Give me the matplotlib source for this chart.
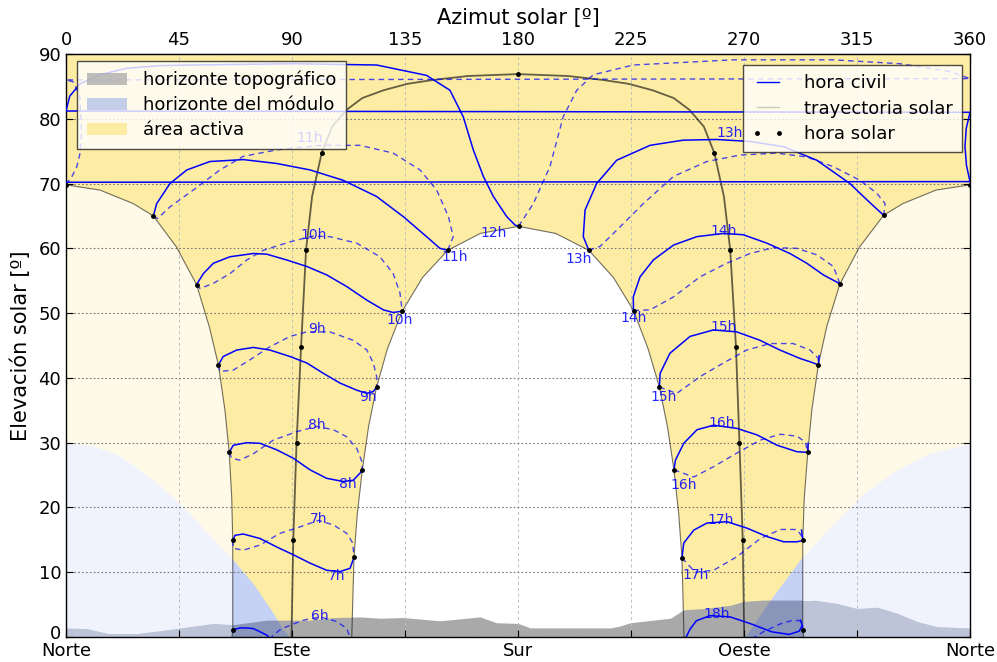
import matplotlib
matplotlib.use('Agg')
import matplotlib.pyplot as plt
import matplotlib.transforms as mtransforms
from matplotlib.patches import Polygon, Patch
from matplotlib.lines import Line2D

YELLOW = '#fdeca4'
TOPO_GRAY = '#a9a9a9'
MODULE_BLUE = 'royalblue'

# solstice / equinox paths (azimuth, elevation)
summer_left_az = [0.0, 13.5, 26.8, 34.8, 44.0, 52.0, 57.0, 60.7, 63.3, 65.0, 66.0, 66.4, 66.4, 66.1]
summer_left_el = [69.8, 69.0, 66.9, 65.0, 60.2, 54.4, 48.0, 42.0, 35.0, 28.5, 21.5, 14.9, 1.1, 0.0]
summer_right_az = [293.8, 293.4, 293.4, 294.0, 295.4, 297.0, 299.6, 303.0, 308.2, 316.0, 325.6, 333.2, 346.5, 360.0]
summer_right_el = [0.0, 1.1, 14.9, 21.5, 28.5, 35.0, 42.0, 48.0, 54.5, 60.2, 65.1, 66.9, 69.0, 69.8]

winter_az = [113.8, 114.7, 116.0, 118.0, 120.5, 123.7, 128.0, 133.9, 142.0, 152.0, 165.0, 180.2,
             195.0, 208.2, 218.0, 226.0, 231.8, 236.3, 239.5, 242.1, 244.0, 245.3, 246.1]
winter_el = [0.0, 12.3, 19.0, 25.8, 32.5, 38.6, 44.5, 50.3, 55.5, 59.7, 62.3, 63.4,
             62.3, 59.7, 55.5, 50.4, 44.5, 38.6, 32.5, 25.8, 19.0, 12.2, 0.0]

equinox_az = [89.8, 90.5, 91.8, 93.6, 95.6, 98.0, 101.8, 106.0, 111.8, 118.0, 126.4, 136.0, 146.3, 160.0,
              180.0, 200.0, 213.7, 224.0, 233.6, 242.0, 248.2, 254.0, 258.2, 262.0, 264.5, 266.8, 268.2,
              269.5, 270.1]
equinox_el = [0.0, 14.9, 29.9, 44.7, 59.8, 68.0, 74.7, 78.8, 81.4, 83.2, 84.4, 85.4, 86.0, 86.6,
              86.9, 86.6, 86.0, 85.4, 84.4, 83.2, 81.4, 78.8, 74.7, 68.0, 59.8, 44.8, 29.9,
              14.9, 0.0]

# solar hour marks on the three paths
solar_dot_az = [66.4, 66.4, 65.0, 60.7, 52.0, 34.8, 0.0, 360.0, 325.6, 308.2, 299.6, 295.4, 293.4, 293.4,
                90.5, 91.8, 93.6, 95.6, 101.8, 180.0, 258.2, 264.5, 266.8, 268.2, 269.5,
                114.7, 118.0, 123.7, 133.9, 152.0, 180.2, 208.2, 226.0, 236.3, 242.1, 245.3]
solar_dot_el = [1.1, 14.9, 28.5, 42.0, 54.4, 65.0, 69.8, 69.8, 65.1, 54.5, 42.0, 28.5, 14.9, 1.1,
                14.9, 29.9, 44.7, 59.8, 74.7, 86.9, 74.7, 59.8, 44.8, 29.9, 14.9,
                12.3, 25.8, 38.6, 50.3, 59.7, 63.4, 59.7, 50.4, 38.6, 25.8, 12.2]

# topographic horizon
topo_az = [0, 8.2, 16.2, 29.5, 40.1, 58.7, 66.6, 79.9, 89.2, 97.2, 106.5, 117.1, 125.0, 134.3, 148.9,
           164.9, 171.5, 180.1, 184.9, 191.4, 216.8, 220.6, 224.7, 240.7, 246.0, 254.0, 264.6, 269.9,
           277.8, 297.8, 307.0, 315.0, 323.0, 330.9, 338.9, 346.9, 360]
topo_el = [1.4, 1.3, 0.6, 0.6, 1.1, 2.1, 1.9, 2.6, 2.6, 2.6, 3.0, 3.1, 2.9, 3.0, 2.5,
           3.1, 2.2, 2.1, 1.4, 1.4, 1.4, 1.7, 2.2, 2.9, 4.2, 4.4, 4.9, 5.5,
           5.7, 5.7, 5.2, 4.4, 4.6, 3.7, 2.4, 1.6, 1.4]

# module horizon
mod_left_az = [0, 10, 20, 29.5, 38, 48, 57, 66.6, 75, 82, 86.5, 89.2]
mod_left_el = [30, 29.6, 28.3, 25.8, 23.2, 19.6, 15.8, 11.9, 8.0, 4.0, 1.1, 0]
mod_right_az = [270.4, 280.4, 292.3, 304.4, 317.7, 330.9, 344.2, 360]
mod_right_el = [0, 5.7, 11.9, 17.0, 22.2, 25.8, 28.4, 29.9]

# civil hour curves (az, el): solid = one half of the year, dashed = the other
civil_06_solid = [(66.4, 1.1), (69.3, 1.4), (72.0, 1.4), (74.6, 1.3), (77.3, 0.8), (79.9, 0.3), (81.8, -0.4)]
civil_06_dashed = [(81.0, -0.4), (82.6, 0.3), (85.2, 1.1), (87.9, 1.6), (94.5, 2.6), (101.2, 3.1),
                   (107.8, 2.4), (111.8, 1.3), (113.4, -0.3)]
civil_07_solid = [(66.4, 14.9), (67.3, 15.7), (70.6, 15.9), (77.3, 15.2), (83.9, 13.9), (90.5, 12.7),
                  (97.2, 11.4), (103.8, 10.3), (109.1, 10.1), (113.1, 10.6), (114.7, 12.3)]
civil_07_dashed = [(66.4, 14.9), (66.6, 13.7), (70.6, 13.4), (77.3, 14.2), (85.2, 16.0), (93.2, 17.0),
                   (100.5, 18.0), (106.5, 17.3), (111.8, 16.0), (114.2, 14.5), (114.7, 12.3)]
civil_08_solid = [(65.0, 28.5), (66.6, 29.6), (72.0, 30.0), (77.3, 29.9), (83.9, 28.9), (90.5, 27.6),
                  (97.2, 25.8), (103.8, 24.5), (110.4, 24.0), (114.4, 24.2), (117.1, 25.3), (118.0, 25.8)]
civil_08_dashed = [(65.0, 28.5), (66.0, 27.6), (69.3, 27.3), (74.6, 28.3), (82.6, 30.4), (91.9, 31.7),
                   (99.8, 32.5), (106.5, 32.0), (111.8, 30.9), (115.8, 29.1), (117.8, 27.1), (118.0, 25.8)]
civil_09_solid = [(60.7, 42.0), (62.6, 43.3), (68.0, 44.3), (74.6, 44.7), (81.2, 44.3), (89.2, 43.3),
                  (95.9, 42.3), (102.5, 40.7), (109.1, 39.2), (115.8, 38.1), (119.8, 37.6), (122.4, 37.9),
                  (123.7, 38.6)]
civil_09_dashed = [(60.7, 42.0), (61.3, 41.0), (66.6, 41.2), (73.3, 42.8), (81.2, 44.8), (89.2, 46.4),
                   (95.9, 47.1), (105.1, 47.1), (114.4, 45.8), (119.8, 44.3), (122.4, 42.3), (123.7, 40.2),
                   (123.7, 38.6)]
civil_10_solid = [(52.0, 54.4), (54.7, 56.1), (58.7, 57.7), (65.3, 58.7), (74.6, 59.2), (79.9, 59.1),
                  (87.9, 58.2), (95.9, 57.2), (103.8, 55.9), (111.8, 54.1), (119.8, 52.0), (126.4, 50.5),
                  (130.3, 50.1), (133.9, 50.3)]
civil_10_dashed = [(52.0, 54.4), (53.4, 53.8), (58.7, 54.6), (65.3, 56.1), (72.0, 58.2), (78.6, 59.7),
                   (89.2, 61.0), (98.5, 61.9), (105.1, 61.8), (115.8, 60.8), (125.0, 58.7), (130.3, 56.1),
                   (133.0, 53.1), (133.9, 50.3)]
civil_11_solid = [(34.8, 65.0), (36.1, 66.9), (41.4, 70.0), (48.1, 72.1), (57.3, 73.4), (70.6, 73.7),
                  (83.9, 73.1), (97.2, 72.1), (110.4, 70.5), (123.7, 68.0), (134.3, 64.9), (143.6, 61.8),
                  (148.9, 60.0), (152.0, 59.7)]
civil_11_dashed = [(34.8, 65.0), (36.5, 64.6), (41.4, 66.4), (50.7, 69.0), (61.3, 72.1), (70.6, 74.2),
                   (83.9, 75.2), (101.2, 75.9), (117.1, 75.9), (130.3, 74.7), (141.0, 72.1), (147.6, 69.0),
                   (152.3, 64.9), (154.2, 61.8), (152.0, 59.7)]
civil_12_solid = [(180.2, 63.4), (178.8, 63.6), (175.5, 64.9), (170.2, 68.0), (166.2, 71.1), (162.2, 75.2),
                  (158.2, 80.3), (152.9, 84.4), (143.6, 86.7), (123.7, 88.3), (90.5, 88.5), (50.7, 88.3),
                  (37.4, 88.2), (24.2, 87.8), (13.5, 86.8), (5.6, 85.4), (1.5, 83.5), (0.0, 81.2),
                  (360.0, 81.0), (358.5, 78.5), (358.0, 75.7), (358.6, 72.8), (360.0, 70.3), (0.0, 70.2)]
civil_12_dashed = [(180.2, 63.4), (186.1, 66.9), (192.7, 72.6), (198.0, 80.3), (203.4, 84.4), (210.0, 86.8),
                   (225.9, 88.3), (265.7, 89.1), (305.6, 89.1), (332.1, 88.5), (352.0, 87.3), (360.0, 86.2),
                   (0.0, 86.0), (2.9, 85.7), (5.5, 83.5), (6.2, 77.7), (5.5, 74.5), (4.3, 72.6),
                   (2.0, 70.8), (0.0, 70.0)]
civil_13_solid = [(208.2, 59.7), (206.0, 61.8), (206.7, 65.9), (211.3, 70.0), (219.3, 73.6), (232.6, 75.9),
                  (245.8, 76.7), (259.1, 76.8), (272.4, 76.5), (285.7, 75.7), (299.0, 73.6), (312.2, 70.0),
                  (318.9, 67.5), (325.6, 65.1)]
civil_13_dashed = [(208.2, 59.7), (212.7, 60.3), (219.3, 62.8), (229.9, 66.9), (241.9, 71.1), (255.2, 73.4),
                   (268.4, 74.4), (283.0, 74.7), (295.0, 74.1), (305.6, 72.6), (316.2, 70.5), (322.9, 68.5),
                   (326.2, 66.9), (325.6, 65.1)]
civil_14_solid = [(226.0, 50.4), (225.9, 52.5), (228.6, 55.6), (233.9, 58.2), (241.9, 60.5), (251.2, 61.8),
                  (261.8, 62.3), (269.7, 62.1), (279.1, 60.8), (288.3, 59.2), (295.0, 57.7), (301.6, 55.9),
                  (306.9, 54.8), (308.2, 54.5)]
civil_14_dashed = [(226.0, 50.4), (232.6, 50.5), (241.9, 52.5), (252.5, 55.6), (263.1, 57.7), (272.4, 59.2),
                   (281.7, 60.1), (291.0, 60.0), (299.0, 59.0), (305.6, 57.2), (308.2, 54.5)]
civil_15_solid = [(236.3, 38.6), (236.6, 40.7), (240.5, 43.8), (248.5, 46.4), (257.8, 47.4), (267.1, 47.1),
                  (276.4, 45.8), (284.3, 44.3), (292.3, 43.0), (297.0, 42.4), (299.6, 42.0), (299.9, 43.4)]
civil_15_dashed = [(236.3, 38.6), (243.2, 37.6), (252.5, 40.2), (261.8, 42.3), (271.1, 44.3), (280.4, 45.3),
                   (289.6, 45.3), (296.3, 44.3), (299.6, 43.0), (299.6, 42.0)]
civil_16_solid = [(242.1, 25.8), (242.7, 27.3), (246.0, 29.9), (251.3, 32.0), (257.9, 32.7), (267.2, 32.2),
                  (275.2, 31.2), (283.2, 29.6), (291.1, 28.6), (295.4, 28.5), (295.5, 29.9)]
civil_16_dashed = [(242.1, 25.8), (250.0, 24.7), (257.9, 26.3), (267.2, 28.4), (276.5, 30.4), (284.5, 31.3),
                   (291.1, 31.0), (294.4, 30.1), (295.4, 28.5)]
civil_17_solid = [(245.3, 12.2), (246.0, 14.5), (250.0, 16.5), (255.3, 17.6), (263.2, 17.8), (271.2, 16.8),
                  (279.2, 15.5), (285.8, 14.7), (291.1, 14.7), (293.4, 14.9), (292.9, 16.5)]
civil_17_dashed = [(245.3, 12.2), (250.6, 10.0), (257.9, 10.3), (267.2, 12.4), (276.5, 15.2), (284.5, 16.6),
                   (291.1, 16.6), (293.1, 15.5), (293.4, 14.9)]
civil_18_solid = [(246.6, -0.3), (248.5, 1.2), (251.0, 2.5), (256.5, 3.3), (264.5, 3.1), (273.0, 2.0),
                  (281.0, 0.8), (288.0, 0.4), (292.0, 0.9), (293.2, 1.8), (292.5, 2.6)]
civil_18_dashed = [(273.0, -0.3), (277.7, 0.8), (284.3, 2.0), (289.6, 2.6), (292.3, 2.5), (293.4, 1.9),
                   (293.4, 1.1)]

civil_solid = [civil_06_solid, civil_07_solid, civil_08_solid, civil_09_solid, civil_10_solid,
               civil_11_solid, civil_12_solid, civil_13_solid, civil_14_solid, civil_15_solid,
               civil_16_solid, civil_17_solid, civil_18_solid]
civil_dashed = [civil_06_dashed, civil_07_dashed, civil_08_dashed, civil_09_dashed, civil_10_dashed,
                civil_11_dashed, civil_12_dashed, civil_13_dashed, civil_14_dashed, civil_15_dashed,
                civil_16_dashed, civil_17_dashed, civil_18_dashed]

# hour labels
hour_label_txt = ['6h', '7h', '7h', '8h', '8h', '9h', '9h', '10h', '10h', '11h', '11h', '12h',
                  '13h', '13h', '14h', '14h', '15h', '15h', '16h', '16h', '17h', '17h', '18h']
hour_label_az = [101.2, 100.5, 107.8, 99.8, 112.4, 99.8, 120.4, 98.5, 133.0, 97.2, 154.9, 170.2,
                 264.4, 204.0, 261.8, 225.9, 261.8, 237.9, 261.2, 246.0, 260.6, 250.6, 259.3]
hour_label_el = [3.3, 18.2, 9.4, 32.8, 23.6, 47.6, 37.1, 62.1, 49.0, 77.0, 58.7, 62.3,
                 77.8, 58.4, 62.6, 49.2, 47.9, 37.1, 33.0, 23.5, 18.1, 9.6, 3.5]

bottom_ticks = [0, 45, 90, 135, 180, 225, 270, 315, 360]
bottom_labels = ['Norte', '', 'Este', '', 'Sur', '', 'Oeste', '', 'Norte']


fig = plt.figure(figsize=(9.97, 6.62), dpi=100)
ax = fig.add_axes([66 / 997, 25 / 662, 904 / 997, 583 / 662])
ax.set_xlim(0, 360)
ax.set_ylim(0, 90)

# active area: everything above the winter path
yellow_pts = [(0, 0)] + list(zip(winter_az, winter_el)) + [(360, 0), (360, 90), (0, 90)]
ax.add_patch(Polygon(yellow_pts, closed=True, facecolor=YELLOW, edgecolor='none', zorder=0.2))

# behind the module: no active area
for maz, mel in ((mod_left_az, mod_left_el), (mod_right_az, mod_right_el)):
    ax.fill_between(maz, 0, mel, color='white', lw=0, zorder=0.3)

ax.fill_between(topo_az, 0, topo_el, color=TOPO_GRAY, lw=0, zorder=0.4)

for maz, mel in ((mod_left_az, mod_left_el), (mod_right_az, mod_right_el)):
    ax.fill_between(maz, 0, mel, color=MODULE_BLUE, alpha=0.3, lw=0, zorder=0.5)

# wash out the zones beyond the summer path
for saz, sel, corner in ((summer_left_az, summer_left_el, 0), (summer_right_az, summer_right_el, 360)):
    clip = Polygon([(corner, 0)] + list(zip(saz, sel)), closed=True, transform=ax.transData)
    hi = ax.fill_between(topo_az, topo_el, 90, color='white', alpha=0.75, lw=0, zorder=0.6)
    hi.set_clip_path(clip)
    clip2 = Polygon([(corner, 0)] + list(zip(saz, sel)), closed=True, transform=ax.transData)
    lo = ax.fill_between(topo_az, 0, topo_el, color='white', alpha=0.45, lw=0, zorder=0.6)
    lo.set_clip_path(clip2)

# sun paths
ax.plot(summer_left_az, summer_left_el, color='k', lw=0.8, alpha=0.55, zorder=2)
ax.plot(summer_right_az, summer_right_el, color='k', lw=0.8, alpha=0.55, zorder=2)
ax.plot(winter_az, winter_el, color='k', lw=0.8, alpha=0.55, zorder=2)
ax.plot(equinox_az, equinox_el, color='k', lw=1.3, alpha=0.6, zorder=2)

# civil time curves
for curve in civil_solid:
    az, el = zip(*curve)
    ax.plot(az, el, color='b', lw=1.1, zorder=3)
for curve in civil_dashed:
    az, el = zip(*curve)
    ax.plot(az, el, color='b', lw=1.0, ls=(0, (4, 3)), alpha=0.7, zorder=3)

ax.plot(solar_dot_az, solar_dot_el, 'k.', ms=5, zorder=4)

for a, e, t in zip(hour_label_az, hour_label_el, hour_label_txt):
    ax.text(a, e, t, color='b', fontsize=10, ha='center', va='center', alpha=0.85, zorder=3.5)

# grid and axes
ax.set_xticks(bottom_ticks)
ax.set_xticklabels(bottom_labels)
ax.set_yticks(range(0, 91, 10))
ax.xaxis.grid(True, ls=(0, (3, 3)), color='#bdbdbd', lw=0.7)
ax.yaxis.grid(True, ls=(0, (1.5, 2)), color='#777777', lw=0.8)
ax.tick_params(direction='in', length=5, width=0.8, right=True, labelsize=13)
ax.set_ylabel('Elevación solar [º]', fontsize=15, labelpad=5)
for sp in ax.spines.values():
    sp.set_linewidth(1.0)

# lift the "0" a little so it clears the bottom "Norte"
zero_lbl = ax.yaxis.get_major_ticks()[0].label1
zero_lbl.set_transform(zero_lbl.get_transform() +
                       mtransforms.ScaledTranslation(0, 5 / 100, fig.dpi_scale_trans))

secax = ax.secondary_xaxis('top')
secax.set_xticks(range(0, 361, 45))
secax.tick_params(direction='in', length=5, width=0.8, labelsize=13)
secax.set_xlabel('Azimut solar [º]', fontsize=15, labelpad=5)

# legends
h1 = [Patch(facecolor=TOPO_GRAY, alpha=0.75, edgecolor='none'),
      Patch(facecolor=MODULE_BLUE, alpha=0.3, edgecolor='none'),
      Patch(facecolor=YELLOW, edgecolor='none')]
leg1 = ax.legend(h1, ['horizonte topográfico', 'horizonte del módulo', 'área activa'],
                 loc='upper left', bbox_to_anchor=(0.012, 0.988), borderaxespad=0, fontsize=13,
                 fancybox=False, framealpha=0.8, edgecolor='#222222', labelspacing=0.38,
                 handlelength=2.2, handletextpad=0.9, borderpad=0.55)
leg1.get_frame().set_linewidth(1.0)
ax.add_artist(leg1)

h2 = [Line2D([], [], color='b', lw=1.0),
      Line2D([], [], color='k', lw=1.0, alpha=0.2),
      Line2D([], [], color='k', marker='.', ls='none', ms=5)]
leg2 = ax.legend(h2, ['hora civil', 'trayectoria solar', 'hora solar'],
                 loc='upper right', bbox_to_anchor=(0.991, 0.981), borderaxespad=0, fontsize=13,
                 fancybox=False, framealpha=0.8, edgecolor='#222222', labelspacing=0.42,
                 handlelength=1.8, handletextpad=1.1, borderpad=0.5, numpoints=2)
leg2.get_frame().set_linewidth(1.0)

fig.savefig('out.png', dpi=100)
